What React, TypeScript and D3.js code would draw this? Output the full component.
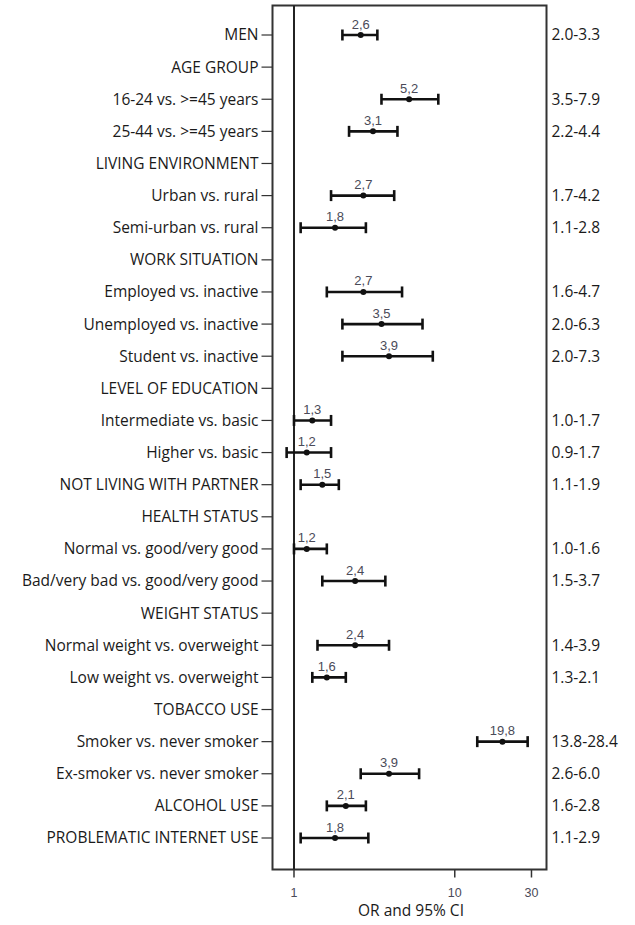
import React from "react";
import * as d3 from "d3";

// Row labels, top to bottom
const categories: string[] = [
  "MEN",
  "AGE GROUP",
  "16-24 vs. >=45 years",
  "25-44 vs. >=45 years",
  "LIVING ENVIRONMENT",
  "Urban vs. rural",
  "Semi-urban vs. rural",
  "WORK SITUATION",
  "Employed vs. inactive",
  "Unemployed vs. inactive",
  "Student vs. inactive",
  "LEVEL OF EDUCATION",
  "Intermediate vs. basic",
  "Higher vs. basic",
  "NOT LIVING WITH PARTNER",
  "HEALTH STATUS",
  "Normal vs. good/very good",
  "Bad/very bad vs. good/very good",
  "WEIGHT STATUS",
  "Normal weight vs. overweight",
  "Low weight vs. overweight",
  "TOBACCO USE",
  "Smoker vs. never smoker",
  "Ex-smoker vs. never smoker",
  "ALCOHOL USE",
  "PROBLEMATIC INTERNET USE",
];

// Odds ratios and 95% CI bounds (null = section header)
const oddsRatios: (number | null)[] = [
  2.6, null, 5.2, 3.1, null, 2.7, 1.8, null, 2.7, 3.5, 3.9, null, 1.3, 1.2, 1.5,
  null, 1.2, 2.4, null, 2.4, 1.6, null, 19.8, 3.9, 2.1, 1.8,
];
const ciLower: (number | null)[] = [
  2.0, null, 3.5, 2.2, null, 1.7, 1.1, null, 1.6, 2.0, 2.0, null, 1.0, 0.9, 1.1,
  null, 1.0, 1.5, null, 1.4, 1.3, null, 13.8, 2.6, 1.6, 1.1,
];
const ciUpper: (number | null)[] = [
  3.3, null, 7.9, 4.4, null, 4.2, 2.8, null, 4.7, 6.3, 7.3, null, 1.7, 1.7, 1.9,
  null, 1.6, 3.7, null, 3.9, 2.1, null, 28.4, 6.0, 2.8, 2.9,
];

const xTicks: number[] = [1, 10, 30];

const W = 635;
const H = 925;
const plotLeft = 272.5;
const plotRight = 546.5;
const plotTop = 5.5;
const plotBottom = 869.5;
const font = "'Open Sans', 'Noto Sans', sans-serif";
const smallFont = "'Liberation Sans', Arial, sans-serif";
const ink = "#1a1a1a";
const valueInk = "#4a4a58";

const fmtComma = (v: number) => v.toFixed(1).replace(".", ",");
const fmtDot = (v: number) => v.toFixed(1);

export default function App() {
  const x = d3.scaleLog().domain([0.735, 37.2]).range([plotLeft, plotRight]);
  const y = d3.scalePoint<string>().domain(categories).range([35, 838]);

  const capH = 5.5;

  return (
    <svg
      width={W}
      height={H}
      style={{ position: "absolute", left: 0, top: 0, background: "#fff" }}
    >
      {/* frame */}
      <rect
        x={plotLeft}
        y={plotTop}
        width={plotRight - plotLeft}
        height={plotBottom - plotTop}
        fill="none"
        stroke="#333"
        strokeWidth={2}
      />
      {/* reference line at OR = 1 */}
      <line
        x1={x(1)}
        x2={x(1)}
        y1={plotTop}
        y2={plotBottom}
        stroke="#222"
        strokeWidth={2}
      />

      {/* category axis */}
      {categories.map((c) => {
        const yy = y(c)!;
        return (
          <g key={c}>
            <line
              x1={plotLeft - 11}
              x2={plotLeft}
              y1={yy}
              y2={yy}
              stroke="#333"
              strokeWidth={1.2}
            />
            <text
              x={plotLeft - 14}
              y={yy}
              dy="0.35em"
              textAnchor="end"
              fontFamily={font}
              fontSize={15.5}
              fill={ink}
            >
              {c}
            </text>
          </g>
        );
      })}

      {/* estimates */}
      {categories.map((c, i) => {
        const or = oddsRatios[i];
        const lo = ciLower[i];
        const hi = ciUpper[i];
        if (or == null || lo == null || hi == null) return null;
        const yy = y(c)!;
        return (
          <g key={"m" + c}>
            <line
              x1={x(lo)}
              x2={x(hi)}
              y1={yy}
              y2={yy}
              stroke="#111"
              strokeWidth={2.6}
            />
            <line
              x1={x(lo)}
              x2={x(lo)}
              y1={yy - capH}
              y2={yy + capH}
              stroke="#111"
              strokeWidth={2.6}
            />
            <line
              x1={x(hi)}
              x2={x(hi)}
              y1={yy - capH}
              y2={yy + capH}
              stroke="#111"
              strokeWidth={2.6}
            />
            <circle cx={x(or)} cy={yy} r={3} fill="#111" />
            <text
              x={x(or)}
              y={yy - 6.5}
              textAnchor="middle"
              fontFamily={smallFont}
              fontSize={13}
              fill={valueInk}
            >
              {fmtComma(or)}
            </text>
            <text
              x={plotRight + 5}
              y={yy}
              dy="0.35em"
              fontFamily={font}
              fontSize={15.5}
              fill={ink}
            >
              {fmtDot(lo) + "-" + fmtDot(hi)}
            </text>
          </g>
        );
      })}

      {/* x axis */}
      {xTicks.map((t) => (
        <g key={"t" + t}>
          <line
            x1={x(t)}
            x2={x(t)}
            y1={plotBottom}
            y2={plotBottom + 8}
            stroke="#333"
            strokeWidth={1.5}
          />
          <text
            x={x(t)}
            y={897}
            textAnchor="middle"
            fontFamily={smallFont}
            fontSize={12.5}
            fill={valueInk}
          >
            {t}
          </text>
        </g>
      ))}
      <text
        x={411}
        y={916}
        textAnchor="middle"
        fontFamily={font}
        fontSize={15.5}
        fill={ink}
      >
        OR and 95% CI
      </text>
    </svg>
  );
}
